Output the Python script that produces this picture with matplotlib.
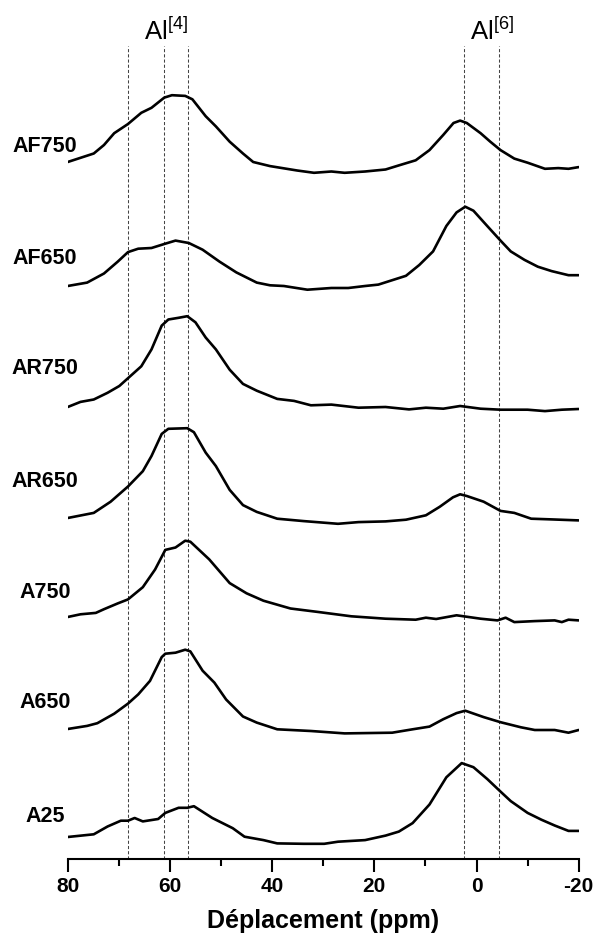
# -*- coding: utf-8 -*-
"""
Spectres RMN 27Al empilés (déplacement chimique en ppm), lignes de repère Al[4] / Al[6].
"""
import numpy as np
import matplotlib
matplotlib.use("Agg")
import matplotlib.pyplot as plt
from matplotlib.ticker import MultipleLocator
from matplotlib.transforms import blended_transform_factory

plt.rcParams["font.family"] = ["Liberation Sans", "DejaVu Sans"]
plt.rcParams["mathtext.default"] = "regular"
plt.rcParams["axes.unicode_minus"] = False

# --- données (ppm, intensité relative au bord gauche) ---
af750_ppm = [80, 74.9, 72.9, 70.9, 68.2, 65.6, 63.6, 61.1, 59.6, 57.0, 55.6, 53.0, 51.0, 48.3,
             45.7, 43.7, 40.4, 35.1, 31.8, 28.4, 25.8, 21.8, 17.8, 15.2, 11.9, 9.2, 6.5, 4.5,
             3.2, 1.9, -0.8, -2.7, -4.7, -7.4, -10.0, -13.4, -16.0, -18.0, -20.0]
af750_int = [0, 8.5, 17, 28.8, 38, 49.2, 54.2, 64.4, 66.8, 66.1, 62.7, 45.8, 35.6, 20.3,
             8.5, 0, -4.1, -8.5, -10.8, -9.5, -10.8, -9.5, -7.5, -3.4, 1.7, 11.9, 27.1, 39,
             41.4, 39, 28.8, 20.3, 11.9, 3.4, -0.7, -6.8, -6.1, -6.8, -5.1]

af650_ppm = [80, 76.2, 72.9, 70.2, 68.2, 66.2, 63.6, 61.1, 58.9, 56.3, 53.6, 50.3, 47.0, 43.0,
             40.4, 37.7, 33.1, 28.4, 25.1, 21.8, 19.2, 16.5, 13.8, 11.2, 8.5, 5.9, 3.9, 2.2,
             0.6, -2.1, -4.7, -6.7, -9.4, -12.0, -14.7, -18.0, -20.0]
af650_int = [0, 3.4, 12.5, 24.4, 33.9, 37.3, 38, 42, 45.4, 43, 36.3, 24.4, 13.6, 3.4,
             0.7, 0, -3.7, -2, -2, 0, 1.4, 5.8, 10.2, 21, 34.6, 60, 73.6, 79.3,
             75.3, 60, 45.4, 34.6, 26.1, 19.3, 14.9, 10.8, 10.8]

ar750_ppm = [80, 77.5, 74.9, 72.2, 69.9, 68.2, 65.6, 63.6, 61.6, 60.3, 58.3, 56.6, 55.0, 53.0,
             51.0, 48.3, 45.7, 43.0, 39.0, 35.7, 32.4, 28.4, 23.1, 17.8, 13.2, 9.9, 6.5, 3.2,
             -0.8, -4.7, -10.0, -13.4, -16.7, -20.0]
ar750_int = [0, 5.1, 7.5, 14.2, 21, 28.8, 40.7, 57.6, 81.4, 87.5, 89.2, 90.8, 84.7, 69.5,
             57.6, 37.3, 23.1, 16.3, 8.1, 6.1, 1.7, 2.4, -0.7, 0, -2.4, -0.7, -1.7, 1,
             -1.7, -2.7, -2.7, -4.1, -2.7, -2]

ar650_ppm = [80, 74.9, 71.6, 68.2, 65.3, 63.6, 61.6, 60.3, 56.6, 55.3, 53.0, 51.0, 48.3, 45.7,
             43.0, 39.0, 33.8, 27.1, 23.1, 17.8, 13.8, 9.9, 7.2, 4.6, 3.2, 1.9, -1.4, -4.7,
             -7.4, -10.7, -14.7, -20.0]
ar650_int = [0, 5.1, 16.3, 31.5, 46.8, 62, 84.1, 89.2, 89.8, 85.8, 65.4, 51.9, 28.1, 12.9,
             6.1, -0.7, -3.1, -5.8, -4.1, -3.4, -1.7, 2.7, 11.2, 20.7, 23.7, 22, 16.3, 7.1,
             5.1, -0.7, -1.4, -2.4]

a750_ppm = [80, 77.5, 74.5, 72.9, 70.2, 68.2, 65.3, 62.9, 60.9, 58.9, 57.0, 56.0, 52.3, 48.3,
            45.0, 41.7, 36.4, 31.1, 24.5, 17.8, 11.9, 9.9, 7.9, 3.9, -0.8, -4.1, -5.7, -7.4,
            -11.4, -15.3, -16.7, -18.0, -20.0]
a750_int = [0, 2.7, 4.1, 7.8, 13.6, 17.6, 29.8, 47.5, 67.1, 69.5, 76.3, 75.3, 57.6, 33.9,
            23.7, 16.3, 8.5, 5.1, 0.7, -1.7, -2.7, -0.7, -2, 1.7, -1.7, -3.4, -0.7, -5.1,
            -4.1, -3.4, -5.1, -2.7, -3.4]

a650_ppm = [80, 76.2, 74.2, 70.9, 68.2, 66.2, 63.9, 61.6, 60.9, 58.9, 57.0, 56.0, 53.6, 51.3,
            49.0, 45.7, 43.0, 39.0, 32.4, 25.8, 16.5, 12.5, 9.2, 6.5, 3.9, 2.2, -1.4, -4.7,
            -8.7, -11.4, -15.3, -18.0, -20.0]
a650_int = [0, 3.1, 5.8, 15.3, 25.4, 34.6, 48.1, 71.9, 75.3, 76.3, 79.3, 77.6, 58.3, 46.4,
            29.5, 12.5, 6.4, -0.3, -2, -4.4, -3.7, -0.3, 2.4, 9.8, 15.9, 18.3, 11.9, 6.8,
            1.7, -1, -1, -3.7, -1]

a25_ppm = [80, 74.9, 72.2, 69.6, 68.2, 66.9, 65.3, 62.3, 60.9, 58.3, 56.6, 55.3, 51.7, 47.7,
           45.4, 41.7, 39.0, 33.8, 29.8, 27.1, 21.8, 17.8, 15.2, 12.5, 9.2, 5.9, 2.9, 0.6,
           -2.1, -4.7, -6.7, -10.0, -12.7, -15.3, -18.0, -20.0]
a25_int = [0, 2.7, 10.5, 16.3, 16.3, 19, 15.6, 18, 24.1, 29.2, 29.2, 30.8, 19, 8.8,
           0.3, -3.1, -6.4, -6.8, -6.8, -4.7, -3.1, 1.4, 5.4, 13.9, 32.5, 59.7, 73.9, 69.8,
           58, 45.4, 35.9, 24.1, 17.3, 11.5, 6.1, 6.1]

samples = ["AF750", "AF650", "AR750", "AR650", "A750", "A650", "A25"]
spectra = [
    (af750_ppm, af750_int),
    (af650_ppm, af650_int),
    (ar750_ppm, ar750_int),
    (ar650_ppm, ar650_int),
    (a750_ppm, a750_int),
    (a650_ppm, a650_int),
    (a25_ppm, a25_int),
]
offsets = [697, 573, 452, 341, 242, 130, 22]
label_y = [712, 601, 490, 378, 266, 156, 42]

al4_lines = [68.2, 61.2, 56.4]
al6_lines = [2.4, -4.5]


def main() -> None:
    W, H = 595, 939
    fig = plt.figure(figsize=(W / 100, H / 100), dpi=100)
    x0, x1 = 67.7, 578.7
    y_top, y_bot = 46, 859
    ax = fig.add_axes([x0 / W, 1 - y_bot / H, (x1 - x0) / W, (y_bot - y_top) / H])

    for (ppm, inten), off in zip(spectra, offsets):
        ax.plot(ppm, np.asarray(inten) + off, color="black", lw=1.9,
                solid_joinstyle="round", solid_capstyle="round")

    for v in al4_lines + al6_lines:
        ax.axvline(v, color="#444444", lw=0.75, ls=(0, (3, 2)), zorder=0)

    # noms d'échantillons à gauche des spectres
    trans = blended_transform_factory(fig.transFigure, ax.transData)
    for name, yl in zip(samples, label_y):
        ax.text(45 / W, yl, name, transform=trans, ha="center", va="center",
                fontsize=15.5, fontweight="bold", clip_on=False)

    fig.text(166 / W, 1 - 31 / H, "Al$^{[4]}$", ha="center", va="center", fontsize=18.5)
    fig.text(492 / W, 1 - 31 / H, "Al$^{[6]}$", ha="center", va="center", fontsize=18.5)

    ax.set_xlim(80, -20)
    ax.set_ylim(0, y_bot - y_top)
    ax.xaxis.set_major_locator(MultipleLocator(20))
    ax.xaxis.set_minor_locator(MultipleLocator(10))
    ax.tick_params(axis="x", which="major", direction="out", length=9, width=1.5,
                   labelsize=15, pad=4)
    ax.tick_params(axis="x", which="minor", direction="out", length=5, width=1.5)
    for lab in ax.get_xticklabels():
        lab.set_fontweight("bold")
    ax.set_yticks([])
    for s in ("left", "right", "top"):
        ax.spines[s].set_visible(False)
    ax.spines["bottom"].set_linewidth(1.5)
    ax.set_xlabel("Déplacement (ppm)", fontsize=18, fontweight="bold", labelpad=9)

    fig.savefig("out.png", dpi=100)
    plt.close(fig)


if __name__ == "__main__":
    main()
